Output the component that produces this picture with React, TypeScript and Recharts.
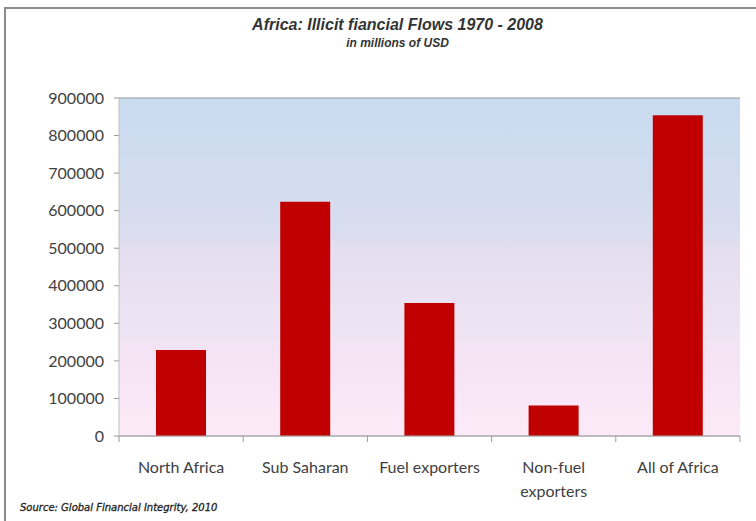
import React from "react";
import { BarChart, Bar, XAxis, YAxis, CartesianGrid } from "recharts";

const categories = ["North Africa", "Sub Saharan", "Fuel exporters", "Non-fuel exporters", "All of Africa"];
const flows = [229000, 624000, 354000, 81000, 854000];
const yTicks = [0, 100000, 200000, 300000, 400000, 500000, 600000, 700000, 800000, 900000];

const data = categories.map((c, i) => ({ name: c, value: flows[i] }));

const W = 756;
const H = 521;
const xAxisHeight = 60;
const margin = { top: 98, right: 16, bottom: 85 - xAxisHeight, left: 19 };
const yAxisWidth = 100;
const plotW = W - margin.left - margin.right - yAxisWidth;
const band = plotW / categories.length;

const XTick = (props: any) => {
  const { x, y, payload, index } = props;
  const label: string = payload.value;
  const lines = label === "Non-fuel exporters" ? ["Non-fuel", "exporters"] : [label];
  return (
    <g>
      <line x1={x - band / 2} x2={x - band / 2} y1={y} y2={y + 6} stroke="#9a9a9a" />
      {index === categories.length - 1 && (
        <line x1={x + band / 2} x2={x + band / 2} y1={y} y2={y + 6} stroke="#9a9a9a" />
      )}
      <text x={x} y={y + 37} textAnchor="middle" fill="#404040" fontFamily="Lato, 'Open Sans', sans-serif" fontSize={16}>
        {lines.map((l, i) => (
          <tspan key={i} x={x} dy={i === 0 ? 0 : 24}>{l}</tspan>
        ))}
      </text>
    </g>
  );
};

export default function App() {
  return (
    <div style={{ position: "fixed", left: 0, top: 0, width: W, height: H, overflow: "hidden", background: "#fff" }}>
      <div style={{ position: "absolute", left: 4, top: 7, width: 900, height: 700, border: "2px solid #8c8c8c", boxSizing: "border-box" }} />
      <div style={{ position: "absolute", left: 0, top: 16, width: 795, textAlign: "center", fontFamily: "'Liberation Sans', Arial, sans-serif", fontWeight: "bold", fontStyle: "italic", fontSize: 16, color: "#333" }}>
        Africa: Illicit fiancial Flows 1970 - 2008
      </div>
      <div style={{ position: "absolute", left: 0, top: 36, width: 795, textAlign: "center", fontFamily: "'Liberation Sans', Arial, sans-serif", fontWeight: "bold", fontStyle: "italic", fontSize: 12, color: "#333" }}>
        in millions of USD
      </div>
      <div style={{ position: "absolute", left: 20, top: 502, fontFamily: "'DejaVu Sans', sans-serif", fontStyle: "italic", fontSize: 10, color: "#222", WebkitTextStroke: "0.3px #222" }}>
        Source: Global Financial Integrity, 2010
      </div>
      <div style={{ position: "absolute", left: 0, top: 0 }}>
        <BarChart width={W} height={H} data={data} margin={margin}>
          <defs>
            <linearGradient id="bgGrad" x1="0" y1="0" x2="0" y2="1">
              <stop offset="0%" stopColor="#c8dbef" />
              <stop offset="40%" stopColor="#d9ddef" />
              <stop offset="45%" stopColor="#e4def0" />
              <stop offset="70%" stopColor="#efe4f3" />
              <stop offset="78%" stopColor="#f5e3f4" />
              <stop offset="100%" stopColor="#fdeaf8" />
            </linearGradient>
          </defs>
          <CartesianGrid vertical={false} stroke="#969696" fill="url(#bgGrad)" fillOpacity={1} />
          <XAxis
            dataKey="name"
            axisLine={{ stroke: "#b0b0b0" }}
            tickLine={false}
            tick={<XTick />}
            interval={0}
            height={xAxisHeight}
            tickSize={0}
            tickMargin={0}
          />
          <YAxis
            yAxisId="left"
            width={yAxisWidth}
            domain={[0, 900000]}
            ticks={yTicks}
            axisLine={{ stroke: "#c0c0c0" }}
            tickLine={{ stroke: "#9a9a9a" }}
            tickSize={5}
            tickMargin={10}
            tick={{ fill: "#404040", fontFamily: "Lato, 'Open Sans', sans-serif", fontSize: 16 }}
            interval={0}
          />
          <YAxis
            yAxisId="right"
            orientation="right"
            width={0}
            domain={[0, 900000]}
            tick={false}
            tickLine={false}
            axisLine={{ stroke: "#c0c0c0" }}
          />
          <Bar yAxisId="left" dataKey="value" fill="#c00000" barSize={50} isAnimationActive={false} />
        </BarChart>
      </div>
    </div>
  );
}
